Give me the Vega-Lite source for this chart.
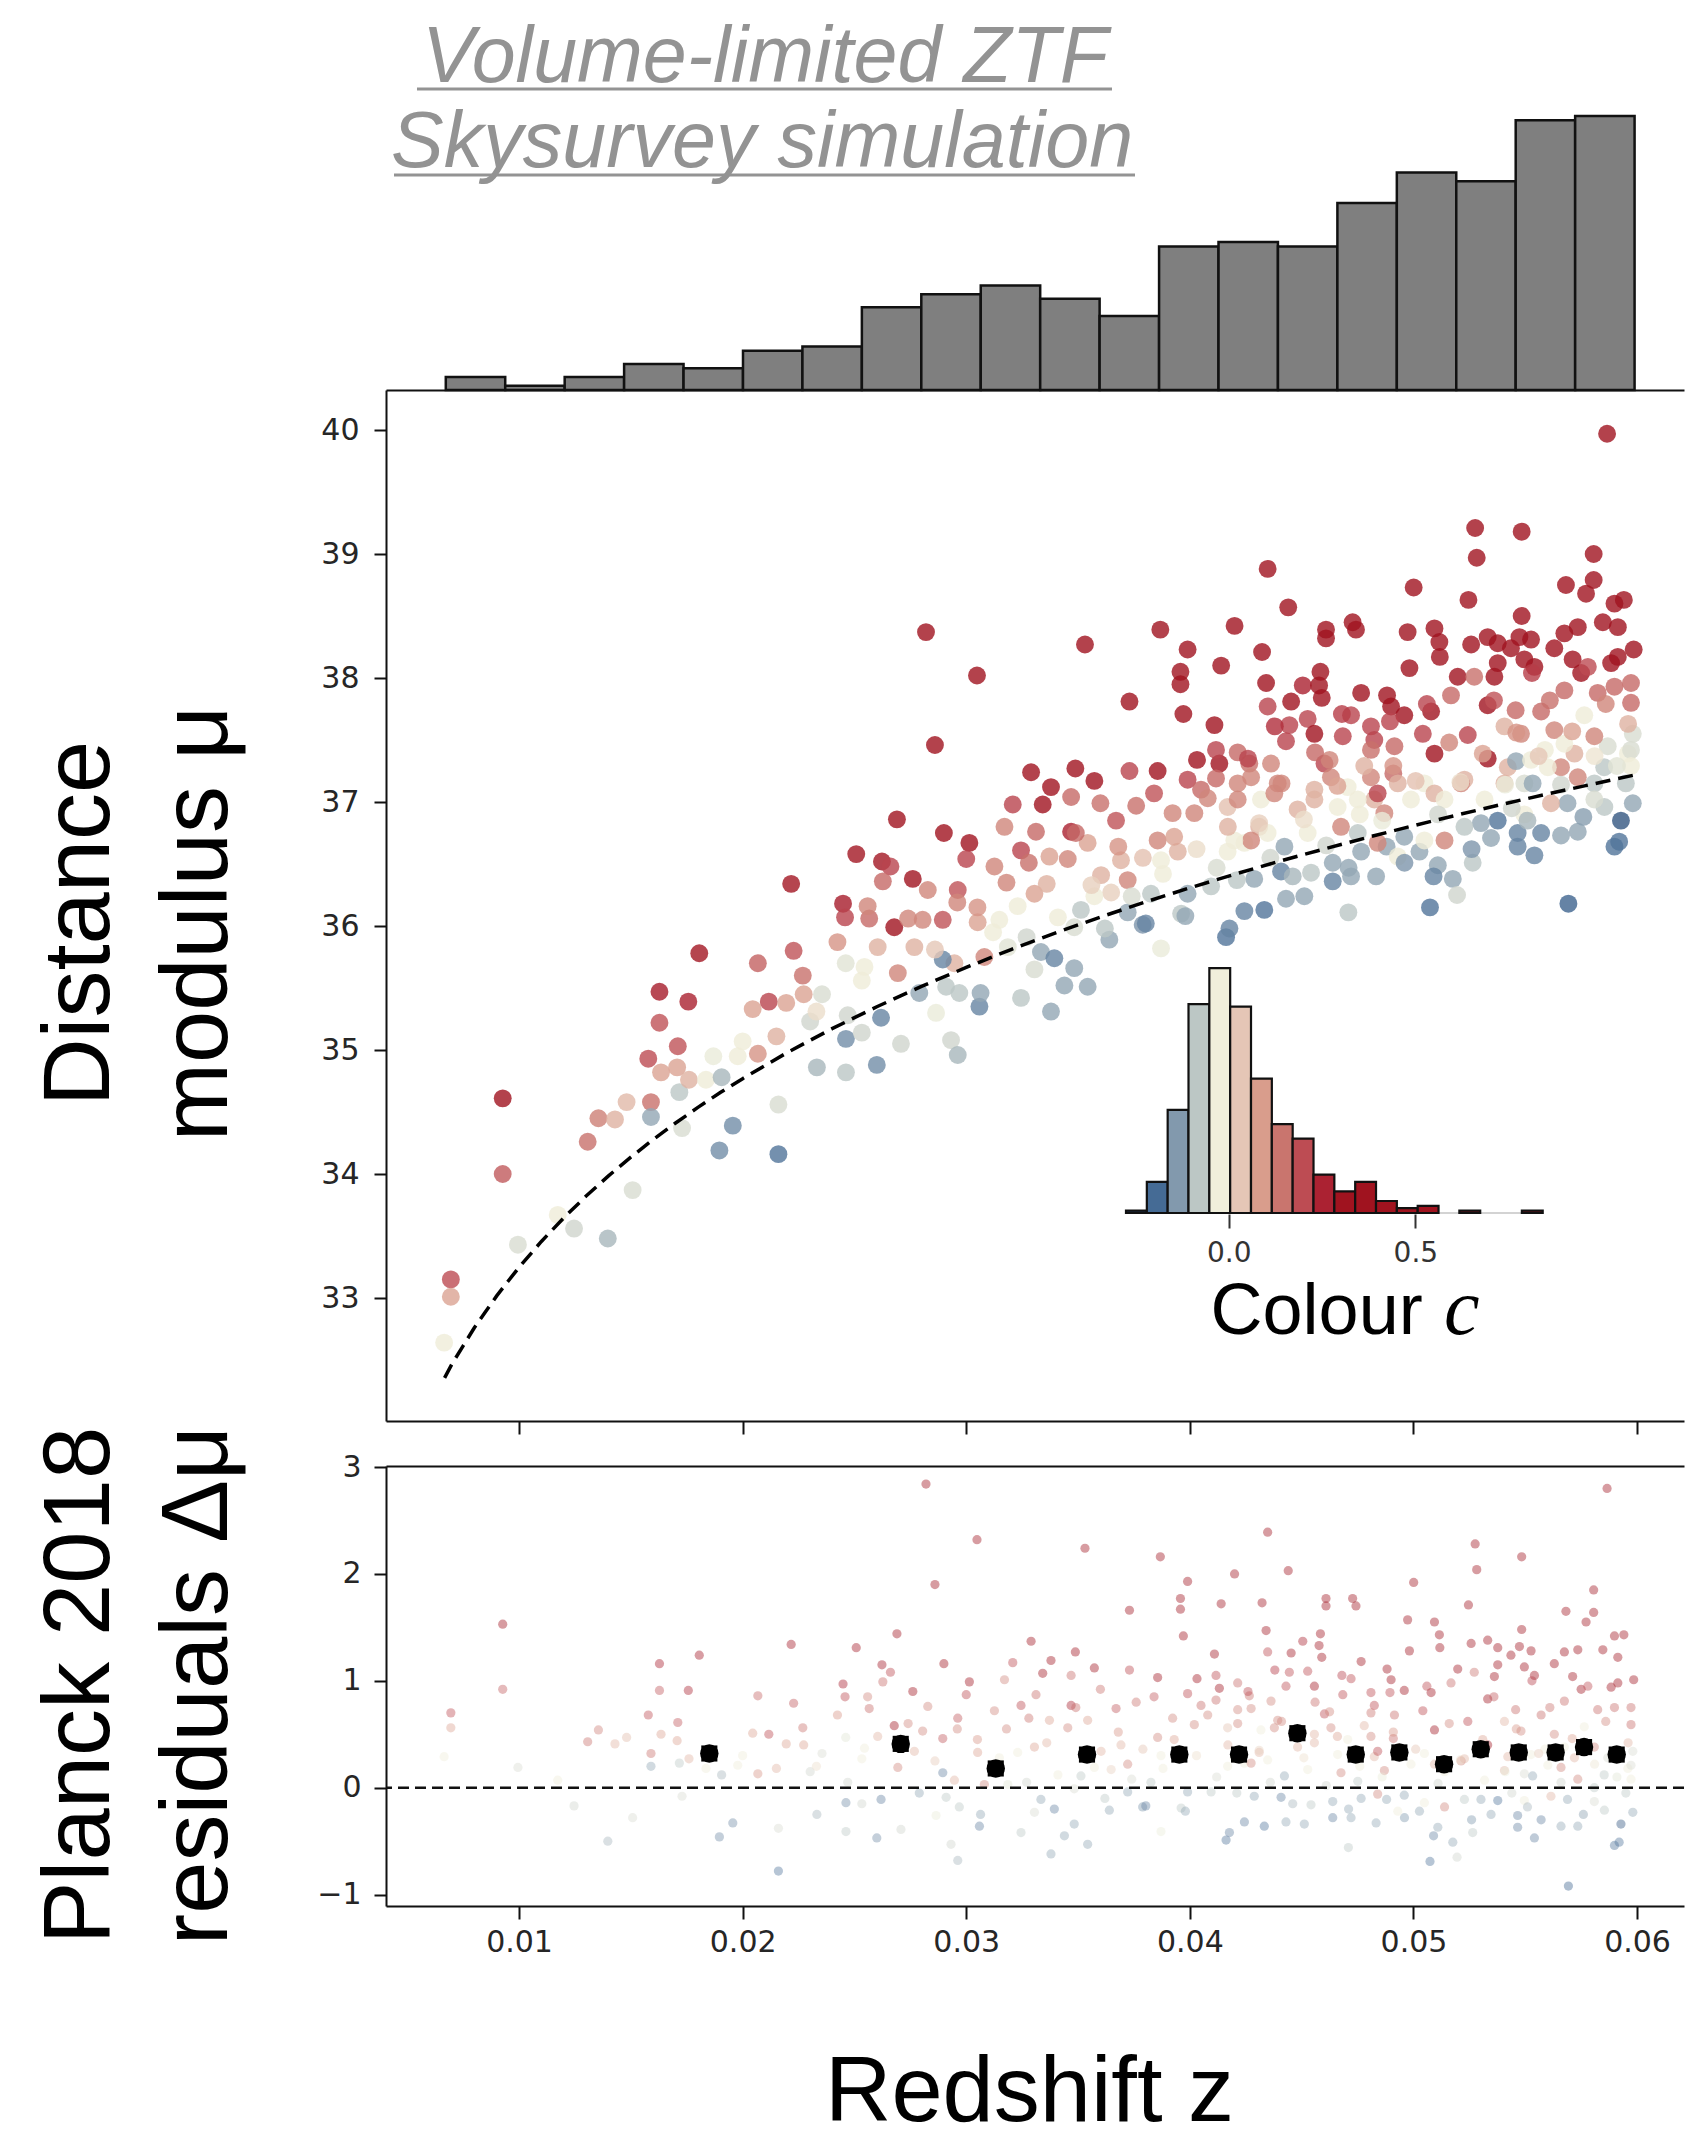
{
  "$schema": "https://vega.github.io/schema/vega-lite/v6.json",
  "padding": {"left": 32, "top": 19, "right": 0, "bottom": 0},
  "background": "white",
  "config": {
    "view": {"stroke": null},
    "axis": {"grid": false, "labelFont": "DejaVu Sans", "labelFontSize": 30, "labelColor": "#262626", "domainColor": "#111111", "domainWidth": 2, "tickColor": "#111111", "tickWidth": 2, "tickSize": 13, "titleFont": "Liberation Sans", "titleFontWeight": "normal", "titleColor": "#000000"}
  },
  "datasets": {
    "pts": [
{"z":0.00665,"m":32.64,"r":0.29,"c":-0.02},{"z":0.00695,"m":33.15,"r":0.70,"c":0.2},{"z":0.00695,"m":33.01,"r":0.56,"c":0.08},{"z":0.00927,"m":34.61,"r":1.53,"c":0.45},{"z":0.00927,"m":34.00,"r":0.92,"c":0.18},
{"z":0.00995,"m":33.43,"r":0.19,"c":-0.05},{"z":0.01246,"m":33.56,"r":-0.17,"c":-0.06},{"z":0.01397,"m":33.48,"r":-0.50,"c":-0.1},{"z":0.01173,"m":33.67,"r":0.07,"c":-0.02},{"z":0.01508,"m":33.87,"r":-0.28,"c":-0.05},
{"z":0.01307,"m":34.26,"r":0.43,"c":0.15},{"z":0.01355,"m":34.45,"r":0.54,"c":0.13},{"z":0.01429,"m":34.44,"r":0.41,"c":0.06},{"z":0.01481,"m":34.58,"r":0.47,"c":0.05},{"z":0.0159,"m":34.58,"r":0.32,"c":0.15},
{"z":0.0159,"m":34.46,"r":0.20,"c":-0.12},{"z":0.01628,"m":35.47,"r":1.16,"c":0.28},{"z":0.01628,"m":35.22,"r":0.91,"c":0.19},{"z":0.01757,"m":35.39,"r":0.91,"c":0.26},{"z":0.0171,"m":35.03,"r":0.61,"c":0.19},
{"z":0.01578,"m":34.93,"r":0.68,"c":0.2},{"z":0.01635,"m":34.82,"r":0.50,"c":0.08},{"z":0.01707,"m":34.86,"r":0.44,"c":0.08},{"z":0.01717,"m":34.66,"r":0.23,"c":-0.08},{"z":0.01729,"m":34.37,"r":-0.08,"c":-0.05},
{"z":0.0176,"m":34.76,"r":0.27,"c":0.06},{"z":0.01836,"m":34.76,"r":0.18,"c":-0.02},{"z":0.01869,"m":34.95,"r":0.33,"c":-0.03},{"z":0.01906,"m":34.78,"r":0.12,"c":-0.1},{"z":0.01956,"m":34.39,"r":-0.33,"c":-0.15},
{"z":0.01896,"m":34.19,"r":-0.46,"c":-0.15},{"z":0.01806,"m":35.78,"r":1.24,"c":0.3},{"z":0.02,"m":35.07,"r":0.30,"c":-0.02},{"z":0.01978,"m":34.95,"r":0.21,"c":-0.02},{"z":0.02068,"m":34.97,"r":0.13,"c":0.1},
{"z":0.02045,"m":35.33,"r":0.51,"c":0.08},{"z":0.02068,"m":35.70,"r":0.86,"c":0.17},{"z":0.02117,"m":35.39,"r":0.50,"c":0.21},{"z":0.02195,"m":35.38,"r":0.41,"c":0.08},{"z":0.0216,"m":34.56,"r":-0.38,"c":-0.05},
{"z":0.0216,"m":34.16,"r":-0.78,"c":-0.18},{"z":0.02217,"m":36.34,"r":1.34,"c":0.3},{"z":0.02228,"m":35.80,"r":0.79,"c":0.19},{"z":0.02269,"m":35.60,"r":0.56,"c":0.15},{"z":0.02273,"m":35.45,"r":0.40,"c":0.08},
{"z":0.02355,"m":35.45,"r":0.32,"c":-0.05},{"z":0.02151,"m":35.11,"r":0.18,"c":0.06},{"z":0.02302,"m":35.23,"r":0.15,"c":-0.06},{"z":0.02332,"m":34.86,"r":-0.25,"c":-0.1},{"z":0.02462,"m":34.82,"r":-0.41,"c":-0.08},
{"z":0.02462,"m":35.09,"r":-0.14,"c":-0.15},{"z":0.026,"m":34.88,"r":-0.47,"c":-0.15},{"z":0.02533,"m":35.14,"r":-0.15,"c":-0.06},{"z":0.02508,"m":36.58,"r":1.31,"c":0.3},{"z":0.02449,"m":36.18,"r":0.97,"c":0.28},
{"z":0.02458,"m":36.07,"r":0.85,"c":0.21},{"z":0.02566,"m":36.06,"r":0.74,"c":0.16},{"z":0.02424,"m":35.87,"r":0.68,"c":0.1},{"z":0.02461,"m":35.70,"r":0.47,"c":-0.04},{"z":0.02533,"m":35.56,"r":0.27,"c":-0.02},
{"z":0.02623,"m":36.52,"r":1.15,"c":0.3},{"z":0.0282,"m":38.37,"r":2.84,"c":0.7},{"z":0.03048,"m":38.02,"r":2.32,"c":0.55},{"z":0.03531,"m":38.27,"r":2.24,"c":0.6},{"z":0.0286,"m":37.46,"r":1.90,"c":0.5},
{"z":0.03868,"m":38.39,"r":2.16,"c":0.6},{"z":0.0399,"m":38.23,"r":1.93,"c":0.55},{"z":0.042,"m":38.42,"r":2.00,"c":0.6},{"z":0.04348,"m":38.88,"r":2.39,"c":0.7},{"z":0.0373,"m":37.81,"r":1.66,"c":0.5},
{"z":0.03958,"m":38.05,"r":1.77,"c":0.5},{"z":0.03958,"m":37.95,"r":1.67,"c":0.5},{"z":0.03971,"m":37.71,"r":1.42,"c":0.45},{"z":0.0414,"m":38.10,"r":1.72,"c":0.55},{"z":0.04323,"m":38.21,"r":1.73,"c":0.55},
{"z":0.04341,"m":37.96,"r":1.47,"c":0.45},{"z":0.04348,"m":37.77,"r":1.27,"c":0.21},{"z":0.0411,"m":37.62,"r":1.25,"c":0.6},{"z":0.04032,"m":37.34,"r":1.02,"c":0.45},{"z":0.04132,"m":37.31,"r":0.93,"c":0.4},
{"z":0.04117,"m":37.42,"r":1.05,"c":0.21},{"z":0.04214,"m":37.40,"r":0.98,"c":0.16},{"z":0.04266,"m":37.31,"r":0.86,"c":0.15},{"z":0.0399,"m":37.18,"r":0.88,"c":0.21},{"z":0.04117,"m":37.19,"r":0.82,"c":0.16},
{"z":0.0405,"m":37.10,"r":0.77,"c":0.16},{"z":0.03856,"m":37.25,"r":1.03,"c":0.4},{"z":0.0373,"m":37.25,"r":1.10,"c":0.21},{"z":0.03573,"m":37.17,"r":1.12,"c":0.4},{"z":0.03488,"m":37.27,"r":1.27,"c":0.4},
{"z":0.0329,"m":37.24,"r":1.37,"c":0.4},{"z":0.03379,"m":37.12,"r":1.19,"c":0.4},{"z":0.03342,"m":36.98,"r":1.07,"c":0.6},{"z":0.03208,"m":36.98,"r":1.17,"c":0.21},{"z":0.03171,"m":36.80,"r":1.01,"c":0.12},
{"z":0.03469,"m":37.04,"r":1.05,"c":0.16},{"z":0.036,"m":36.99,"r":0.92,"c":0.15},{"z":0.0376,"m":36.97,"r":0.80,"c":0.15},{"z":0.0367,"m":36.85,"r":0.74,"c":0.19},{"z":0.03469,"m":36.76,"r":0.77,"c":0.26},
{"z":0.03312,"m":36.76,"r":0.87,"c":0.16},{"z":0.03543,"m":36.67,"r":0.63,"c":0.08},{"z":0.0269,"m":36.86,"r":1.44,"c":0.45},{"z":0.029,"m":36.75,"r":1.16,"c":0.45},{"z":0.03014,"m":36.67,"r":0.99,"c":0.45},
{"z":0.03,"m":36.54,"r":0.87,"c":0.21},{"z":0.02661,"m":36.48,"r":1.08,"c":0.21},{"z":0.02761,"m":36.38,"r":0.90,"c":0.4},{"z":0.02627,"m":36.36,"r":0.99,"c":0.16},{"z":0.02828,"m":36.29,"r":0.76,"c":0.12},
{"z":0.02962,"m":36.29,"r":0.65,"c":0.19},{"z":0.03126,"m":36.48,"r":0.72,"c":0.12},{"z":0.03245,"m":36.61,"r":0.77,"c":0.21},{"z":0.03372,"m":36.56,"r":0.63,"c":0.08},{"z":0.03454,"m":36.54,"r":0.56,"c":0.12},
{"z":0.03603,"m":36.41,"r":0.34,"c":0.06},{"z":0.03692,"m":36.53,"r":0.40,"c":0.06},{"z":0.03856,"m":36.69,"r":0.47,"c":0.12},{"z":0.03923,"m":36.91,"r":0.65,"c":0.12},{"z":0.0402,"m":36.91,"r":0.59,"c":0.12},
{"z":0.04169,"m":36.96,"r":0.56,"c":0.04},{"z":0.04318,"m":37.02,"r":0.54,"c":-0.02},{"z":0.04244,"m":36.67,"r":0.23,"c":-0.02},{"z":0.0431,"m":36.80,"r":0.33,"c":0.06},{"z":0.02559,"m":36.16,"r":0.85,"c":0.12},
{"z":0.02678,"m":35.99,"r":0.58,"c":0.6},{"z":0.02805,"m":36.05,"r":0.53,"c":0.12},{"z":0.02895,"m":36.05,"r":0.46,"c":0.19},{"z":0.03051,"m":36.03,"r":0.33,"c":0.08},{"z":0.03148,"m":36.05,"r":0.28,"c":-0.02},
{"z":0.03305,"m":36.26,"r":0.38,"c":0.08},{"z":0.0323,"m":36.16,"r":0.33,"c":-0.02},{"z":0.02604,"m":35.83,"r":0.48,"c":0.06},{"z":0.02768,"m":35.83,"r":0.34,"c":0.06},{"z":0.02545,"m":35.67,"r":0.37,"c":-0.02},
{"z":0.02694,"m":35.62,"r":0.19,"c":0.12},{"z":0.02947,"m":35.70,"r":0.07,"c":0.06},{"z":0.03081,"m":35.75,"r":0.03,"c":0.12},{"z":0.03186,"m":35.83,"r":0.03,"c":-0.04},{"z":0.03334,"m":35.79,"r":-0.11,"c":-0.12},
{"z":0.03394,"m":35.74,"r":-0.20,"c":-0.16},{"z":0.03483,"m":35.66,"r":-0.34,"c":-0.12},{"z":0.03305,"m":35.65,"r":-0.23,"c":-0.05},{"z":0.03543,"m":35.51,"r":-0.53,"c":-0.12},{"z":0.03439,"m":35.52,"r":-0.45,"c":-0.12},
{"z":0.02895,"m":35.73,"r":0.14,"c":-0.16},{"z":0.0291,"m":35.51,"r":-0.09,"c":-0.08},{"z":0.0279,"m":35.46,"r":-0.05,"c":-0.12},{"z":0.02969,"m":35.46,"r":-0.18,"c":-0.08},{"z":0.03059,"m":35.35,"r":-0.36,"c":-0.16},
{"z":0.03245,"m":35.42,"r":-0.42,"c":-0.08},{"z":0.03379,"m":35.31,"r":-0.62,"c":-0.12},{"z":0.03064,"m":35.46,"r":-0.25,"c":-0.12},{"z":0.02619,"m":35.26,"r":-0.11,"c":-0.16},{"z":0.02708,"m":35.05,"r":-0.39,"c":-0.06},
{"z":0.02932,"m":35.08,"r":-0.53,"c":-0.06},{"z":0.02962,"m":34.96,"r":-0.68,"c":-0.1},{"z":0.02865,"m":35.30,"r":-0.26,"c":-0.03},{"z":0.03871,"m":35.82,"r":-0.41,"c":-0.03},{"z":0.0364,"m":35.89,"r":-0.21,"c":-0.12},
{"z":0.03789,"m":36.01,"r":-0.18,"c":-0.14},{"z":0.03803,"m":36.02,"r":-0.17,"c":-0.16},{"z":0.04162,"m":35.91,"r":-0.49,"c":-0.18},{"z":0.04177,"m":35.98,"r":-0.42,"c":-0.16},{"z":0.04244,"m":36.12,"r":-0.32,"c":-0.16},
{"z":0.04333,"m":36.13,"r":-0.36,"c":-0.18},{"z":0.04288,"m":36.38,"r":-0.08,"c":-0.12},{"z":0.03961,"m":36.10,"r":-0.19,"c":-0.08},{"z":0.0399,"m":36.26,"r":-0.04,"c":-0.12},{"z":0.04095,"m":36.32,"r":-0.04,"c":-0.08},
{"z":0.03871,"m":36.53,"r":0.30,"c":-0.02},{"z":0.03946,"m":36.60,"r":0.32,"c":0.06},{"z":0.04169,"m":36.60,"r":0.20,"c":-0.02},{"z":0.03648,"m":36.27,"r":0.17,"c":0.02},{"z":0.03722,"m":36.37,"r":0.22,"c":0.12},
{"z":0.03573,"m":36.24,"r":0.19,"c":-0.02},{"z":0.03513,"m":36.13,"r":0.11,"c":-0.08},{"z":0.03826,"m":36.26,"r":0.05,"c":-0.08},{"z":0.03722,"m":36.11,"r":-0.04,"c":-0.12},{"z":0.03483,"m":35.99,"r":-0.01,"c":-0.05},
{"z":0.05866,"m":39.97,"r":2.80,"c":0.8},{"z":0.05276,"m":39.21,"r":2.28,"c":0.75},{"z":0.05484,"m":39.18,"r":2.16,"c":0.75},{"z":0.05283,"m":38.97,"r":2.04,"c":0.7},{"z":0.05806,"m":39.00,"r":1.85,"c":0.8},
{"z":0.05001,"m":38.73,"r":1.92,"c":0.6},{"z":0.05246,"m":38.63,"r":1.71,"c":0.6},{"z":0.0444,"m":38.57,"r":2.03,"c":0.55},{"z":0.05682,"m":38.75,"r":1.65,"c":0.6},{"z":0.05806,"m":38.79,"r":1.64,"c":0.6},
{"z":0.05772,"m":38.68,"r":1.55,"c":0.6},{"z":0.05899,"m":38.60,"r":1.42,"c":0.7},{"z":0.05941,"m":38.63,"r":1.43,"c":0.7},{"z":0.05484,"m":38.50,"r":1.48,"c":0.55},{"z":0.04609,"m":38.39,"r":1.77,"c":0.7},
{"z":0.04609,"m":38.32,"r":1.70,"c":0.55},{"z":0.04728,"m":38.45,"r":1.77,"c":0.7},{"z":0.04743,"m":38.39,"r":1.70,"c":0.55},{"z":0.04974,"m":38.37,"r":1.57,"c":0.55},{"z":0.05094,"m":38.40,"r":1.55,"c":0.55},
{"z":0.04453,"m":37.81,"r":1.26,"c":0.55},{"z":0.04505,"m":37.94,"r":1.37,"c":0.26},{"z":0.04584,"m":38.05,"r":1.44,"c":0.55},{"z":0.04578,"m":37.94,"r":1.33,"c":0.7},{"z":0.0459,"m":37.84,"r":1.22,"c":0.55},
{"z":0.04982,"m":38.08,"r":1.28,"c":0.55},{"z":0.05116,"m":38.29,"r":1.43,"c":0.55},{"z":0.05118,"m":38.17,"r":1.31,"c":0.55},{"z":0.05258,"m":38.27,"r":1.35,"c":0.55},{"z":0.05332,"m":38.33,"r":1.38,"c":0.7},
{"z":0.05377,"m":38.28,"r":1.31,"c":0.7},{"z":0.05436,"m":38.24,"r":1.24,"c":0.7},{"z":0.05474,"m":38.33,"r":1.32,"c":0.55},{"z":0.05526,"m":38.31,"r":1.28,"c":0.55},{"z":0.0563,"m":38.24,"r":1.16,"c":0.55},
{"z":0.05675,"m":38.36,"r":1.27,"c":0.7},{"z":0.05735,"m":38.41,"r":1.29,"c":0.7},{"z":0.05847,"m":38.45,"r":1.29,"c":0.55},{"z":0.05914,"m":38.41,"r":1.22,"c":0.55},{"z":0.05985,"m":38.23,"r":1.01,"c":0.55},
{"z":0.05914,"m":38.17,"r":0.98,"c":0.7},{"z":0.05884,"m":38.12,"r":0.94,"c":0.55},{"z":0.0575,"m":38.04,"r":0.92,"c":0.7},{"z":0.05712,"m":38.15,"r":1.04,"c":0.55},{"z":0.05496,"m":38.15,"r":1.13,"c":0.55},
{"z":0.05541,"m":38.09,"r":1.05,"c":0.7},{"z":0.05377,"m":38.12,"r":1.15,"c":0.55},{"z":0.05362,"m":38.01,"r":1.04,"c":0.55},{"z":0.05198,"m":38.01,"r":1.11,"c":0.55},{"z":0.05272,"m":38.01,"r":1.08,"c":0.15},
{"z":0.05332,"m":37.78,"r":0.83,"c":0.7},{"z":0.05168,"m":37.86,"r":0.98,"c":0.16},{"z":0.04766,"m":37.88,"r":1.18,"c":0.55},{"z":0.04882,"m":37.86,"r":1.11,"c":0.7},{"z":0.049,"m":37.77,"r":1.01,"c":0.7},
{"z":0.04959,"m":37.70,"r":0.91,"c":0.5},{"z":0.05079,"m":37.73,"r":0.89,"c":0.5},{"z":0.04895,"m":37.65,"r":0.89,"c":0.21},{"z":0.04721,"m":37.70,"r":1.02,"c":0.21},{"z":0.04527,"m":37.67,"r":1.09,"c":0.21},
{"z":0.04445,"m":37.62,"r":1.08,"c":0.21},{"z":0.04557,"m":37.55,"r":0.95,"c":0.45},{"z":0.0443,"m":37.49,"r":0.95,"c":0.21},{"z":0.04684,"m":37.53,"r":0.87,"c":0.21},{"z":0.0481,"m":37.61,"r":0.89,"c":0.21},
{"z":0.04825,"m":37.50,"r":0.77,"c":0.21},{"z":0.04915,"m":37.45,"r":0.68,"c":0.16},{"z":0.05042,"m":37.55,"r":0.72,"c":0.21},{"z":0.05094,"m":37.39,"r":0.54,"c":0.45},{"z":0.05243,"m":37.54,"r":0.62,"c":0.21},
{"z":0.05332,"m":37.35,"r":0.40,"c":0.45},{"z":0.05457,"m":37.74,"r":0.73,"c":0.16},{"z":0.05571,"m":37.73,"r":0.68,"c":0.16},{"z":0.05675,"m":37.90,"r":0.81,"c":0.16},{"z":0.05764,"m":37.70,"r":0.57,"c":-0.02},
{"z":0.05824,"m":37.88,"r":0.73,"c":0.16},{"z":0.05899,"m":37.93,"r":0.75,"c":0.16},{"z":0.05973,"m":37.80,"r":0.59,"c":0.16},{"z":0.05973,"m":37.96,"r":0.75,"c":0.16},{"z":0.05981,"m":37.55,"r":0.34,"c":-0.05},
{"z":0.05869,"m":37.45,"r":0.28,"c":-0.05},{"z":0.05959,"m":37.39,"r":0.18,"c":-0.02},{"z":0.05809,"m":37.53,"r":0.38,"c":0.12},{"z":0.0563,"m":37.58,"r":0.50,"c":0.12},{"z":0.05481,"m":37.55,"r":0.53,"c":0.12},
{"z":0.05407,"m":37.61,"r":0.62,"c":0.06},{"z":0.0572,"m":37.39,"r":0.28,"c":0.06},{"z":0.05588,"m":37.42,"r":0.36,"c":-0.02},{"z":0.05228,"m":37.18,"r":0.27,"c":0.06},{"z":0.05422,"m":37.28,"r":0.29,"c":0.06},
{"z":0.05496,"m":37.15,"r":0.13,"c":-0.05},{"z":0.0566,"m":37.28,"r":0.19,"c":0.12},{"z":0.05853,"m":37.28,"r":0.12,"c":-0.08},{"z":0.04274,"m":37.20,"r":0.74,"c":0.12},{"z":0.04363,"m":37.31,"r":0.81,"c":0.12},
{"z":0.04393,"m":37.15,"r":0.63,"c":0.12},{"z":0.04602,"m":37.31,"r":0.69,"c":0.21},{"z":0.04625,"m":37.34,"r":0.71,"c":0.12},{"z":0.0481,"m":37.20,"r":0.48,"c":0.12},{"z":0.0491,"m":37.23,"r":0.46,"c":0.16},
{"z":0.04557,"m":37.10,"r":0.50,"c":0.06},{"z":0.04706,"m":37.12,"r":0.45,"c":-0.02},{"z":0.04825,"m":37.02,"r":0.29,"c":0.06},{"z":0.05049,"m":37.15,"r":0.32,"c":-0.02},{"z":0.05094,"m":37.07,"r":0.22,"c":0.06},
{"z":0.04214,"m":37.15,"r":0.73,"c":0.12},{"z":0.05693,"m":36.18,"r":-0.92,"c":-0.2},{"z":0.05074,"m":36.15,"r":-0.69,"c":-0.18},{"z":0.04709,"m":36.11,"r":-0.56,"c":-0.08},{"z":0.0443,"m":36.22,"r":-0.32,"c":-0.12},
{"z":0.04512,"m":36.24,"r":-0.34,"c":-0.12},{"z":0.04639,"m":36.36,"r":-0.28,"c":-0.16},{"z":0.04721,"m":36.40,"r":-0.28,"c":-0.12},{"z":0.04833,"m":36.40,"r":-0.33,"c":-0.12},{"z":0.04408,"m":36.44,"r":-0.09,"c":-0.16},
{"z":0.04542,"m":36.43,"r":-0.16,"c":-0.08},{"z":0.05176,"m":36.38,"r":-0.51,"c":-0.12},{"z":0.05195,"m":36.25,"r":-0.65,"c":-0.06},{"z":0.05265,"m":36.51,"r":-0.42,"c":-0.08},{"z":0.05109,"m":36.49,"r":-0.37,"c":-0.12},
{"z":0.05027,"m":36.60,"r":-0.22,"c":-0.12},{"z":0.05377,"m":36.85,"r":-0.12,"c":-0.18},{"z":0.05466,"m":36.75,"r":-0.26,"c":-0.16},{"z":0.05466,"m":36.64,"r":-0.37,"c":-0.16},{"z":0.05541,"m":36.57,"r":-0.47,"c":-0.16},
{"z":0.05571,"m":36.75,"r":-0.30,"c":-0.16},{"z":0.0566,"m":36.73,"r":-0.36,"c":-0.12},{"z":0.05735,"m":36.76,"r":-0.36,"c":-0.12},{"z":0.05899,"m":36.64,"r":-0.54,"c":-0.18},{"z":0.0592,"m":36.68,"r":-0.51,"c":-0.18},
{"z":0.05928,"m":36.85,"r":-0.34,"c":-0.22},{"z":0.05981,"m":36.99,"r":-0.23,"c":-0.12},{"z":0.05854,"m":36.96,"r":-0.21,"c":-0.08},{"z":0.05689,"m":36.99,"r":-0.11,"c":-0.12},{"z":0.05533,"m":37.15,"r":0.11,"c":-0.12},
{"z":0.05459,"m":37.33,"r":0.32,"c":-0.12},{"z":0.05302,"m":36.83,"r":-0.11,"c":-0.12},{"z":0.05347,"m":36.71,"r":-0.25,"c":-0.12},{"z":0.05228,"m":36.80,"r":-0.11,"c":-0.08},{"z":0.05049,"m":36.69,"r":-0.14,"c":-0.02},
{"z":0.04959,"m":36.72,"r":-0.07,"c":-0.12},{"z":0.0488,"m":36.64,"r":-0.11,"c":-0.12},{"z":0.04766,"m":36.60,"r":-0.10,"c":-0.12},{"z":0.04751,"m":36.75,"r":0.06,"c":-0.08},{"z":0.04639,"m":36.51,"r":-0.13,"c":-0.12},
{"z":0.04423,"m":36.64,"r":0.11,"c":-0.12},{"z":0.05809,"m":37.15,"r":0.00,"c":-0.08},{"z":0.05973,"m":37.42,"r":0.21,"c":-0.05},{"z":0.05601,"m":37.28,"r":0.21,"c":-0.02},{"z":0.0484,"m":37.07,"r":0.34,"c":0.21},
{"z":0.04214,"m":37.02,"r":0.60,"c":0.12},{"z":0.04378,"m":37.07,"r":0.56,"c":0.12},{"z":0.04482,"m":36.94,"r":0.38,"c":0.06},{"z":0.04557,"m":37.02,"r":0.42,"c":0.06},{"z":0.04661,"m":36.96,"r":0.31,"c":-0.02},
{"z":0.04751,"m":37.02,"r":0.33,"c":-0.02},{"z":0.0493,"m":37.15,"r":0.37,"c":0.06},{"z":0.0487,"m":36.91,"r":0.16,"c":0.12},{"z":0.04989,"m":37.02,"r":0.22,"c":-0.02},{"z":0.05213,"m":37.15,"r":0.25,"c":0.12},
{"z":0.05139,"m":37.02,"r":0.15,"c":-0.02},{"z":0.05318,"m":37.02,"r":0.07,"c":-0.02},{"z":0.05407,"m":37.15,"r":0.16,"c":0.06},{"z":0.05496,"m":36.90,"r":-0.12,"c":-0.02},{"z":0.05615,"m":36.99,"r":-0.08,"c":0.06},
{"z":0.05735,"m":37.20,"r":0.08,"c":0.12},{"z":0.05809,"m":37.02,"r":-0.13,"c":-0.05},{"z":0.05973,"m":37.29,"r":0.08,"c":-0.02},{"z":0.05675,"m":37.47,"r":0.38,"c":-0.02},{"z":0.05526,"m":37.34,"r":0.31,"c":-0.02},
{"z":0.0478,"m":37.29,"r":0.58,"c":0.06},{"z":0.04631,"m":37.20,"r":0.56,"c":0.12},{"z":0.04348,"m":36.75,"r":0.26,"c":-0.02},{"z":0.04274,"m":36.69,"r":0.23,"c":0.12},{"z":0.04527,"m":36.75,"r":0.17,"c":-0.02},
{"z":0.04676,"m":36.80,"r":0.14,"c":0.12},{"z":0.0484,"m":36.67,"r":-0.06,"c":0.12},{"z":0.0493,"m":36.56,"r":-0.22,"c":-0.02},{"z":0.05139,"m":36.69,"r":-0.18,"c":0.12},{"z":0.04199,"m":36.69,"r":0.27,"c":-0.02},
{"z":0.0305,"m":36.15,"r":0.45,"c":0.1},{"z":0.0312,"m":35.95,"r":0.20,"c":-0.02},{"z":0.0318,"m":36.35,"r":0.55,"c":0.12},{"z":0.0327,"m":35.91,"r":0.05,"c":-0.06},{"z":0.0336,"m":36.34,"r":0.42,"c":0.06},
{"z":0.0341,"m":36.07,"r":0.12,"c":-0.02},{"z":0.0349,"m":36.75,"r":0.75,"c":0.16},{"z":0.0356,"m":36.33,"r":0.28,"c":0.02},{"z":0.0362,"m":35.98,"r":-0.10,"c":-0.08},{"z":0.0368,"m":36.64,"r":0.52,"c":0.1},
{"z":0.0374,"m":36.24,"r":0.08,"c":-0.05},{"z":0.0379,"m":36.55,"r":0.36,"c":0.04},{"z":0.0384,"m":37.07,"r":0.85,"c":0.19},{"z":0.0388,"m":36.42,"r":0.18,"c":-0.02},{"z":0.0393,"m":36.72,"r":0.45,"c":0.08},
{"z":0.0398,"m":36.08,"r":-0.22,"c":-0.12},{"z":0.0403,"m":36.62,"r":0.30,"c":0.0},{"z":0.0408,"m":37.03,"r":0.68,"c":0.12},{"z":0.0412,"m":36.47,"r":0.10,"c":-0.05},{"z":0.0417,"m":36.80,"r":0.40,"c":0.06},
{"z":0.0421,"m":36.37,"r":-0.05,"c":-0.08},{"z":0.0426,"m":37.35,"r":0.90,"c":0.21},{"z":0.0431,"m":36.83,"r":0.35,"c":0.02},{"z":0.0436,"m":36.55,"r":0.05,"c":-0.06},{"z":0.0441,"m":37.15,"r":0.62,"c":0.12},
{"z":0.0446,"m":36.40,"r":-0.15,"c":-0.1},{"z":0.0451,"m":36.86,"r":0.28,"c":0.0},{"z":0.0456,"m":37.40,"r":0.80,"c":0.16},{"z":0.0461,"m":36.65,"r":0.02,"c":-0.06},{"z":0.0466,"m":37.13,"r":0.48,"c":0.08},
{"z":0.0471,"m":36.47,"r":-0.20,"c":-0.12},{"z":0.0476,"m":36.90,"r":0.20,"c":-0.02},{"z":0.0481,"m":37.42,"r":0.70,"c":0.15},{"z":0.0486,"m":36.85,"r":0.10,"c":-0.03},{"z":0.0491,"m":37.29,"r":0.52,"c":0.1},
{"z":0.0496,"m":36.51,"r":-0.28,"c":-0.14},{"z":0.0501,"m":37.17,"r":0.36,"c":0.04},{"z":0.0506,"m":37.79,"r":0.95,"c":0.21},{"z":0.0511,"m":36.90,"r":0.04,"c":-0.06},{"z":0.0516,"m":37.48,"r":0.60,"c":0.12},
{"z":0.0521,"m":37.16,"r":0.26,"c":0.0},{"z":0.0526,"m":36.62,"r":-0.30,"c":-0.14},{"z":0.0531,"m":37.39,"r":0.45,"c":0.08},{"z":0.0536,"m":37.82,"r":0.85,"c":0.19},{"z":0.0541,"m":37.14,"r":0.15,"c":-0.03},
{"z":0.0546,"m":37.56,"r":0.55,"c":0.1},{"z":0.0551,"m":36.85,"r":-0.18,"c":-0.1},{"z":0.0556,"m":37.37,"r":0.32,"c":0.03},{"z":0.0561,"m":37.82,"r":0.75,"c":0.15},{"z":0.0566,"m":37.14,"r":0.05,"c":-0.06},
{"z":0.0571,"m":37.57,"r":0.46,"c":0.08},{"z":0.0576,"m":36.88,"r":-0.25,"c":-0.13},{"z":0.0581,"m":37.37,"r":0.22,"c":-0.01},{"z":0.0586,"m":37.79,"r":0.62,"c":0.12},{"z":0.0591,"m":37.29,"r":0.10,"c":-0.04},
{"z":0.0596,"m":37.63,"r":0.42,"c":0.06},{"z":0.0595,"m":37.15,"r":-0.05,"c":-0.08},{"z":0.0578,"m":38.09,"r":0.95,"c":0.2},{"z":0.0553,"m":38.04,"r":1.00,"c":0.22},{"z":0.0468,"m":37.71,"r":1.05,"c":0.22},
{"z":0.0438,"m":37.61,"r":1.10,"c":0.24},{"z":0.0509,"m":36.40,"r":-0.45,"c":-0.16},{"z":0.0544,"m":36.95,"r":-0.05,"c":-0.06},{"z":0.0328,"m":36.51,"r":0.65,"c":0.15},{"z":0.0286,"m":35.81,"r":0.25,"c":0.03},
{"z":0.0296,"m":36.19,"r":0.55,"c":0.12},{"z":0.0233,"m":35.31,"r":0.20,"c":0.0},{"z":0.0247,"m":35.28,"r":0.05,"c":-0.06},{"z":0.0274,"m":36.06,"r":0.60,"c":0.12}
    ],
    "curve": [
{"z":0.00667,"m":32.356},{"z":0.007,"m":32.468},{"z":0.0075,"m":32.614},{"z":0.008,"m":32.76},{"z":0.0085,"m":32.889},{"z":0.009,"m":33.017},{"z":0.0095,"m":33.133},{"z":0.01,"m":33.248},{"z":0.011,"m":33.456},{"z":0.012,"m":33.647},{"z":0.013,"m":33.822},{"z":0.014,"m":33.985},{"z":0.015,"m":34.136},{"z":0.016,"m":34.278},{"z":0.017,"m":34.411},{"z":0.018,"m":34.537},{"z":0.019,"m":34.657},{"z":0.02,"m":34.769},{"z":0.022,"m":34.98},{"z":0.024,"m":35.172},{"z":0.026,"m":35.349},{"z":0.028,"m":35.513},{"z":0.03,"m":35.666},{"z":0.032,"m":35.81},{"z":0.034,"m":35.945},{"z":0.036,"m":36.072},{"z":0.038,"m":36.193},{"z":0.04,"m":36.308},{"z":0.042,"m":36.417},{"z":0.044,"m":36.522},{"z":0.046,"m":36.621},{"z":0.048,"m":36.717},{"z":0.05,"m":36.809},{"z":0.052,"m":36.897},{"z":0.054,"m":36.983},{"z":0.056,"m":37.065},{"z":0.058,"m":37.144},{"z":0.0599,"m":37.218}
    ],
    "means": [
{"z":0.01851,"r":0.32},{"z":0.02707,"r":0.41},{"z":0.03132,"r":0.18},{"z":0.0354,"r":0.31},{"z":0.03953,"r":0.31},{"z":0.0422,"r":0.31},{"z":0.04481,"r":0.51},{"z":0.04742,"r":0.31},{"z":0.04937,"r":0.33},{"z":0.05137,"r":0.22},{"z":0.05301,"r":0.36},{"z":0.05471,"r":0.33},{"z":0.05636,"r":0.33},{"z":0.05763,"r":0.38},{"z":0.05909,"r":0.31}
    ],
    "zhist": [
{"a":0.006724,"b":0.009382,"n":3},{"a":0.009382,"b":0.012041,"n":1},{"a":0.012041,"b":0.014699,"n":3},{"a":0.014699,"b":0.017357,"n":6},{"a":0.017357,"b":0.020016,"n":5},{"a":0.020016,"b":0.022674,"n":9},{"a":0.022674,"b":0.025332,"n":10},{"a":0.025332,"b":0.02799,"n":19},{"a":0.02799,"b":0.030649,"n":22},{"a":0.030649,"b":0.033307,"n":24},{"a":0.033307,"b":0.035965,"n":21},{"a":0.035965,"b":0.038624,"n":17},{"a":0.038624,"b":0.041282,"n":33},{"a":0.041282,"b":0.04394,"n":34},{"a":0.04394,"b":0.046599,"n":33},{"a":0.046599,"b":0.049257,"n":43},{"a":0.049257,"b":0.051915,"n":50},{"a":0.051915,"b":0.054573,"n":48},{"a":0.054573,"b":0.057232,"n":62},{"a":0.057232,"b":0.05989,"n":63}
    ],
    "chist": [
{"a":-0.275,"b":-0.2192,"c":-0.247,"n":1},{"a":-0.2192,"b":-0.1634,"c":-0.191,"n":13},{"a":-0.1634,"b":-0.1076,"c":-0.135,"n":43},{"a":-0.1076,"b":-0.0518,"c":-0.08,"n":87},{"a":-0.0518,"b":0.004,"c":-0.024,"n":102},{"a":0.004,"b":0.0598,"c":0.032,"n":86},{"a":0.0598,"b":0.1156,"c":0.088,"n":56},{"a":0.1156,"b":0.1714,"c":0.144,"n":37},{"a":0.1714,"b":0.2272,"c":0.199,"n":31},{"a":0.2272,"b":0.283,"c":0.255,"n":16},{"a":0.283,"b":0.3388,"c":0.311,"n":9},{"a":0.3388,"b":0.3946,"c":0.367,"n":13},{"a":0.3946,"b":0.4504,"c":0.423,"n":5},{"a":0.4504,"b":0.5062,"c":0.478,"n":2},{"a":0.5062,"b":0.562,"c":0.534,"n":3},{"a":0.6178,"b":0.6736,"c":0.646,"n":1},{"a":0.7852,"b":0.841,"c":0.813,"n":1}
    ]
  },
  "vconcat": [
    {
      "width": 1298,
      "height": 1031,
      "layer": [
        {
          "layer": [
            {
              "data": {"name": "pts"},
              "mark": {"type": "circle", "size": 320, "opacity": 0.8, "clip": false},
              "encoding": {
                "x": {"field": "z", "type": "quantitative", "scale": {"domain": [0.00405, 0.0621], "nice": false, "zero": false},
                      "axis": {"orient": "bottom", "values": [0.01, 0.02, 0.03, 0.04, 0.05, 0.06], "labels": false, "domain": true, "ticks": true, "tickSize": 13, "title": null}},
                "y": {"field": "m", "type": "quantitative", "scale": {"domain": [32.0081, 40.3226], "nice": false, "zero": false},
                      "axis": {"orient": "left", "values": [33, 34, 35, 36, 37, 38, 39, 40], "format": "d", "tickSize": 12, "labelPadding": 15, "title": ["Distance", "modulus μ"], "titleFontSize": 94, "titleLineHeight": 118, "titleAngle": 270, "titleAlign": "center", "titleBaseline": "alphabetic", "titleX": -278, "titleY": 533}},
                "color": {"field": "c", "type": "quantitative", "legend": null,
                          "scale": {"domain": [-0.247, -0.191, -0.135, -0.08, -0.024, 0.032, 0.088, 0.144, 0.199, 0.255, 0.311], "range": ["#22426f", "#456b95", "#8299ad", "#bcc7c5", "#f0efdb", "#e5c6b6", "#d99d8c", "#c9756e", "#bd4c53", "#ab2232", "#a0131f"], "interpolate": "rgb", "clamp": true}}
              }
            },
            {
              "data": {"name": "curve"},
              "mark": {"type": "line", "color": "#000000", "strokeWidth": 3.5, "strokeDash": [15, 8], "clip": false},
              "encoding": {
                "x": {"field": "z", "type": "quantitative", "scale": {"domain": [0.00405, 0.0621], "nice": false, "zero": false},
                      "axis": {"orient": "bottom", "values": [0.01, 0.02, 0.03, 0.04, 0.05, 0.06], "labels": false, "domain": true, "ticks": true, "tickSize": 13, "title": null}},
                "y": {"field": "m", "type": "quantitative", "scale": {"domain": [32.0081, 40.3226], "nice": false, "zero": false},
                      "axis": {"orient": "left", "values": [33, 34, 35, 36, 37, 38, 39, 40], "format": "d", "tickSize": 12, "labelPadding": 15, "title": ["Distance", "modulus μ"], "titleFontSize": 94, "titleLineHeight": 118, "titleAngle": 270, "titleAlign": "center", "titleBaseline": "alphabetic", "titleX": -278, "titleY": 533}}
              }
            }
          ]
        },
        {
          "encoding": {
            "x": {"field": "a", "type": "quantitative", "scale": {"domain": [0.00405, 0.0621], "nice": false, "zero": false},
                  "axis": {"orient": "top", "labels": false, "ticks": false, "domain": true, "title": null}},
            "y": {"field": "n", "type": "quantitative", "scale": {"domain": [-237.01, 0], "nice": false, "zero": false}, "axis": null}
          },
          "layer": [
            {
              "data": {"name": "zhist"},
              "mark": {"type": "rect", "fill": "#7f7f7f", "stroke": "#111111", "strokeWidth": 2.5, "clip": false},
              "encoding": {"x2": {"field": "b"}, "y2": {"datum": 0}}
            },
            {
              "data": {"values": [{"a": 0.005436, "b": 0.036518, "n": 69.2}, {"a": 0.004408, "b": 0.037547, "n": 49.4}]},
              "mark": {"type": "rule", "color": "#939393", "strokeWidth": 3, "clip": false},
              "encoding": {"x2": {"field": "b"}}
            },
            {
              "data": {"values": [{"a": 0.021, "n": 70.8, "t": "Volume-limited ZTF"}, {"a": 0.02087, "n": 51.26, "t": "Skysurvey simulation"}]},
              "mark": {"type": "text", "font": "Liberation Sans", "fontStyle": "italic", "fontSize": 79, "color": "#939393", "align": "center", "baseline": "alphabetic", "clip": false},
              "encoding": {"text": {"field": "t"}}
            }
          ]
        },
        {
          "encoding": {
            "x": {"field": "a", "type": "quantitative", "scale": {"domain": [-2.2568, 1.2194], "nice": false, "zero": false},
                  "axis": {"orient": "bottom", "offset": -207, "values": [0, 0.5], "format": ".1f", "domain": false, "tickSize": 14, "labelPadding": 11, "labelFontSize": 28, "labelColor": "#333333", "tickColor": "#333333", "title": null}},
            "y": {"field": "n", "type": "quantitative", "scale": {"domain": [-86.667, 342.917], "nice": false, "zero": false}, "axis": null}
          },
          "layer": [
            {
              "data": {"values": [{"a": -0.275, "b": 0.841, "n": 0}]},
              "mark": {"type": "rule", "color": "#c4c4c4", "strokeWidth": 1.5},
              "encoding": {"x2": {"field": "b"}}
            },
            {
              "data": {"name": "chist"},
              "mark": {"type": "rect", "stroke": "#111111", "strokeWidth": 2.2, "opacity": 1},
              "encoding": {
                "x2": {"field": "b"},
                "y2": {"datum": 0},
                "color": {"field": "c", "type": "quantitative", "legend": null,
                          "scale": {"domain": [-0.247, -0.191, -0.135, -0.08, -0.024, 0.032, 0.088, 0.144, 0.199, 0.255, 0.311], "range": ["#22426f", "#456b95", "#8299ad", "#bcc7c5", "#f0efdb", "#e5c6b6", "#d99d8c", "#c9756e", "#bd4c53", "#ab2232", "#a0131f"], "interpolate": "rgb", "clamp": true}}
              }
            },
            {
              "data": {"values": [{"a": 0.5195, "n": -50.6, "t": "Colour"}]},
              "mark": {"type": "text", "font": "Liberation Sans", "fontSize": 72, "align": "right", "baseline": "alphabetic", "color": "#000000"},
              "encoding": {"text": {"field": "t"}}
            },
            {
              "data": {"values": [{"a": 0.5766, "n": -50.6, "t": "c"}]},
              "mark": {"type": "text", "font": "Liberation Serif", "fontStyle": "italic", "fontSize": 80, "align": "left", "baseline": "alphabetic", "color": "#000000"},
              "encoding": {"text": {"field": "t"}}
            }
          ]
        }
      ],
      "resolve": {"scale": {"x": "independent", "y": "independent"}}
    },
    {
      "width": 1298,
      "height": 440,
      "layer": [
        {
          "layer": [
            {
              "data": {"name": "pts"},
              "mark": {"type": "circle", "size": 85, "opacity": 0.42},
              "encoding": {
                "x": {"field": "z", "type": "quantitative", "scale": {"domain": [0.00405, 0.0621], "nice": false, "zero": false},
                      "axis": {"orient": "bottom", "values": [0.01, 0.02, 0.03, 0.04, 0.05, 0.06], "format": ".2f", "tickSize": 13, "labelPadding": 8, "labelFlush": false, "title": "Redshift z", "titleFontSize": 92, "titleX": 643, "titleY": 214, "titleAlign": "center", "titleBaseline": "alphabetic", "titleAngle": 0}},
                "y": {"field": "r", "type": "quantitative", "scale": {"domain": [-1.1066, 3.0094], "nice": false, "zero": false},
                      "axis": {"orient": "left", "values": [-1, 0, 1, 2, 3], "format": "d", "tickSize": 12, "labelPadding": 13, "title": ["Planck 2018", "residuals Δμ"], "titleFontSize": 94, "titleLineHeight": 118, "titleAngle": 270, "titleAlign": "center", "titleBaseline": "alphabetic", "titleX": -278, "titleY": 219}},
                "color": {"field": "c", "type": "quantitative", "legend": null,
                          "scale": {"domain": [-0.247, -0.191, -0.135, -0.08, -0.024, 0.032, 0.088, 0.144, 0.199, 0.255, 0.311], "range": ["#22426f", "#456b95", "#8299ad", "#bcc7c5", "#f0efdb", "#e5c6b6", "#d99d8c", "#c9756e", "#bd4c53", "#ab2232", "#a0131f"], "interpolate": "rgb", "clamp": true}}
              }
            },
            {
              "data": {"values": [{}]},
              "mark": {"type": "rule", "strokeDash": [11, 6], "strokeWidth": 2.5, "color": "#111111"},
              "encoding": {
                "y": {"datum": 0, "type": "quantitative", "scale": {"domain": [-1.1066, 3.0094], "nice": false, "zero": false},
                      "axis": {"orient": "left", "values": [-1, 0, 1, 2, 3], "format": "d", "tickSize": 12, "labelPadding": 13, "title": ["Planck 2018", "residuals Δμ"], "titleFontSize": 94, "titleLineHeight": 118, "titleAngle": 270, "titleAlign": "center", "titleBaseline": "alphabetic", "titleX": -278, "titleY": 219}}
              }
            }
          ]
        },
        {
          "data": {"name": "means"},
          "encoding": {
            "x": {"field": "z", "type": "quantitative", "scale": {"domain": [0.00405, 0.0621], "nice": false, "zero": false},
                  "axis": {"orient": "top", "labels": false, "ticks": false, "domain": true, "title": null}},
            "y": {"field": "r", "type": "quantitative", "scale": {"domain": [-1.1066, 3.0094], "nice": false, "zero": false}, "axis": null}
          },
          "layer": [
            {"mark": {"type": "circle", "size": 340, "color": "#000000", "opacity": 1}},
            {"mark": {"type": "square", "size": 260, "color": "#000000", "opacity": 1}}
          ]
        }
      ],
      "resolve": {"scale": {"x": "independent", "y": "independent"}}
    }
  ],
  "spacing": 45,
  "bounds": "flush"
}
